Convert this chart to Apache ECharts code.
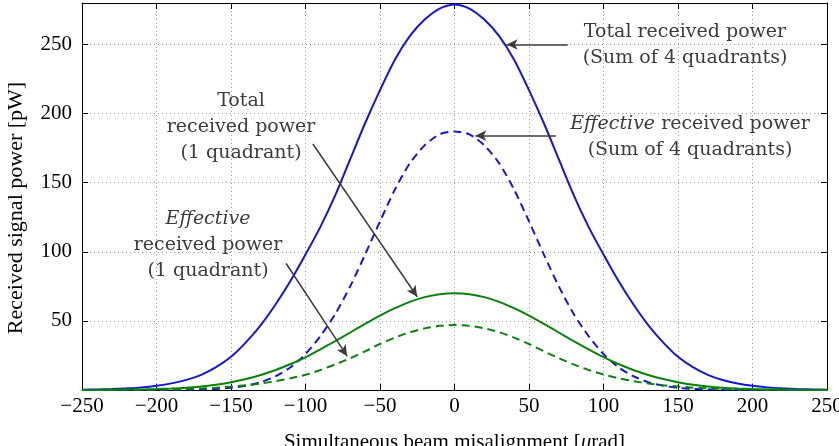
<!DOCTYPE html>
<html>
<head>
<meta charset="utf-8">
<script src="https://cdn.jsdelivr.net/npm/echarts@6/dist/echarts.min.js"></script>
<style>
  html, body { margin: 0; padding: 0; background: #fff; }
  #main { width: 839px; height: 446px; }
</style>
</head>
<body>
<div id="main"></div>
<script>
// misalignment [urad]
var xs = [-250, -240, -230, -220, -210, -200, -190, -180, -170, -160,
          -150, -140, -130, -120, -110, -100, -90, -80, -70, -60,
          -50, -40, -30, -20, -10, 0, 10, 20, 30, 40,
          50, 60, 70, 80, 90, 100, 110, 120, 130, 140,
          150, 160, 170, 180, 190, 200, 210, 220, 230, 240, 250];

// total received power, sum of 4 quadrants [pW]
var totalSum = [0.2, 0.4, 0.7, 1.2, 1.9, 3.1, 4.8, 7.3, 11, 16.5,
                24, 34.5, 47, 62, 79, 98, 118, 141, 167, 193,
                217, 239, 256, 268, 276, 279, 276, 268, 256, 239,
                217, 193, 167, 141, 118, 98, 79, 62, 47, 34.5,
                24, 16.5, 11, 7.2, 4.7, 3, 1.9, 1.2, 0.7, 0.4, 0.2];

// effective received power, sum of 4 quadrants [pW]
var effSum = [0, 0, 0, 0.02, 0.03, 0.05, 0.1, 0.2, 0.4, 0.8,
              1.6, 3.1, 5.7, 10, 16.5, 26, 39, 55, 75, 98,
              122, 145, 164, 177, 185, 187, 185, 177, 164, 145,
              122, 98, 75, 55, 39, 26, 16.5, 10, 5.7, 3.1,
              1.6, 0.8, 0.4, 0.2, 0.1, 0.05, 0.03, 0.02, 0, 0, 0];

// total received power, 1 quadrant [pW]
var totalQuad = [0.06, 0.1, 0.17, 0.28, 0.45, 0.7, 1.1, 1.7, 2.6, 3.8,
                 5.6, 7.9, 10.9, 14.5, 18.8, 23.6, 29.4, 35.4, 41.6, 47.8,
                 53.8, 59.2, 63.8, 67.2, 69.3, 70, 69.3, 67.2, 63.8, 59.2,
                 53.8, 47.8, 41.6, 35.4, 29.4, 23.8, 18.8, 14.5, 10.9, 7.9,
                 5.6, 3.8, 2.6, 1.7, 1.1, 0.7, 0.45, 0.28, 0.17, 0.1, 0.06];

// effective received power, 1 quadrant [pW]
var effQuad = [0.03, 0.05, 0.08, 0.13, 0.2, 0.32, 0.5, 0.75, 1.15, 1.7,
               2.5, 3.4, 4.7, 6.4, 8.5, 11, 14.5, 18.5, 23, 28,
               33.3, 37.9, 41.8, 44.6, 46.4, 47, 46.4, 44.6, 41.8, 37.9,
               33.3, 28, 23, 18.5, 14.5, 11.2, 8.5, 6.4, 4.7, 3.4,
               2.5, 1.7, 1.15, 0.75, 0.5, 0.32, 0.2, 0.13, 0.08, 0.05, 0.03];

var yTicks = [0, 50, 100, 150, 200, 250];

var BLUE = '#1515d8';
var GREEN = '#0a820a';
var INK = '#3c3c3c';
var serif = '"Liberation Serif", "DejaVu Serif", serif';
var annoFont = '"DejaVu Serif", serif';

function pairs(arr) {
    return xs.map(function (x, i) { return [x, arr[i]]; });
}

function xFmt(v) {
    return v < 0 ? '\u2212' + (-v) : String(v);
}

var chart = echarts.init(document.getElementById('main'));

var arrowLine = { color: INK, width: 1.5, type: 'solid' };
var curve = { type: 'line', showSymbol: false, smooth: 0.25, z: 3 };

var option = {
    animation: false,
    backgroundColor: '#fff',
    grid: { left: 82, right: 12, top: 3, bottom: 56, containLabel: false, outerBoundsMode: 'none' },
    xAxis: [
        {
            type: 'value', min: -250, max: 250, interval: 50,
            axisLine: { show: true, onZero: false, lineStyle: { color: '#000', width: 1 } },
            axisTick: { show: true, inside: true, length: 6, lineStyle: { color: '#000' } },
            axisLabel: { formatter: xFmt, color: '#000', fontFamily: serif, fontSize: 21, margin: 6 },
            splitLine: { show: true, lineStyle: { color: '#9a9a9a', type: [1, 3], width: 1 } },
            name: 'Simultaneous beam misalignment [{i|\u03bc}rad]',
            nameLocation: 'middle', nameGap: 42,
            nameTextStyle: { color: '#000', fontFamily: serif, fontSize: 21,
                rich: { i: { fontStyle: 'italic', fontFamily: serif, fontSize: 21, color: '#000' } } }
        },
        {
            type: 'value', min: -250, max: 250, interval: 50, position: 'top',
            axisLine: { show: true, onZero: false, lineStyle: { color: '#000', width: 1 } },
            axisTick: { show: true, inside: true, length: 6, lineStyle: { color: '#000' } },
            axisLabel: { show: false },
            splitLine: { show: false }
        }
    ],
    yAxis: [
        {
            type: 'value', min: 0, max: 280, interval: 50,
            axisLine: { show: true, onZero: false, lineStyle: { color: '#000', width: 1 } },
            axisTick: { show: true, inside: true, length: 6, lineStyle: { color: '#000' } },
            axisLabel: {
                color: '#000', fontFamily: serif, fontSize: 21, margin: 10,
                formatter: function (v) { return (v > 0 && yTicks.indexOf(v) >= 0) ? String(v) : ''; }
            },
            splitLine: { show: true, lineStyle: { color: '#9a9a9a', type: [1, 3], width: 1 } }
        },
        {
            type: 'value', min: 0, max: 280, interval: 50, position: 'right',
            axisLine: { show: true, onZero: false, lineStyle: { color: '#000', width: 1 } },
            axisTick: { show: true, inside: true, length: 6, lineStyle: { color: '#000' } },
            axisLabel: { show: false },
            splitLine: { show: false }
        }
    ],
    series: [
        Object.assign({}, curve, {
            name: 'Total received power (Sum of 4 quadrants)',
            data: pairs(totalSum),
            lineStyle: { color: BLUE, width: 2 },
            markLine: {
                silent: true, symbol: ['none', 'arrow'], symbolSize: [8, 11],
                label: { show: false }, lineStyle: arrowLine,
                data: [
                    [{ coord: [76, 250] }, { coord: [35, 250] }],
                    [{ coord: [68, 184] }, { coord: [14, 184] }],
                    [{ coord: [-95, 178] }, { coord: [-25, 67.5] }],
                    [{ coord: [-113, 91.5] }, { coord: [-72, 24.5] }]
                ]
            }
        }),
        Object.assign({}, curve, {
            name: 'Effective received power (Sum of 4 quadrants)',
            data: pairs(effSum),
            lineStyle: { color: BLUE, width: 2, type: [8, 5] }
        }),
        Object.assign({}, curve, {
            name: 'Total received power (1 quadrant)',
            data: pairs(totalQuad),
            lineStyle: { color: GREEN, width: 2 }
        }),
        Object.assign({}, curve, {
            name: 'Effective received power (1 quadrant)',
            data: pairs(effQuad),
            lineStyle: { color: GREEN, width: 2, type: [8, 5] }
        })
    ],
    graphic: [
        {
            type: 'text', x: 16, y: 208, rotation: Math.PI / 2, z: 10,
            style: {
                text: 'Received signal power [pW]',
                font: '22px ' + serif, fill: '#000', align: 'center', verticalAlign: 'middle'
            }
        },
        {
            type: 'text', x: 685, y: 45, z: 10,
            style: {
                text: 'Total received power\n(Sum of 4 quadrants)',
                font: '19px ' + annoFont, fill: INK, align: 'center', verticalAlign: 'middle', lineHeight: 26
            }
        },
        {
            type: 'text', x: 690, y: 137, z: 10,
            style: {
                text: '{i|Effective} received power\n(Sum of 4 quadrants)',
                font: '19px ' + annoFont, fill: INK, align: 'center', verticalAlign: 'middle', lineHeight: 26,
                rich: { i: { fontStyle: 'italic', fontFamily: annoFont, fontSize: 19, fill: INK, lineHeight: 26 } }
            }
        },
        {
            type: 'text', x: 241, y: 127, z: 10,
            style: {
                text: 'Total\nreceived power\n(1 quadrant)',
                font: '19px ' + annoFont, fill: INK, align: 'center', verticalAlign: 'middle', lineHeight: 26
            }
        },
        {
            type: 'text', x: 208, y: 245, z: 10,
            style: {
                text: '{i|Effective}\nreceived power\n(1 quadrant)',
                font: '19px ' + annoFont, fill: INK, align: 'center', verticalAlign: 'middle', lineHeight: 26,
                rich: { i: { fontStyle: 'italic', fontFamily: annoFont, fontSize: 19, fill: INK, lineHeight: 26 } }
            }
        }
    ]
};

chart.setOption(option);
</script>
</body>
</html>
